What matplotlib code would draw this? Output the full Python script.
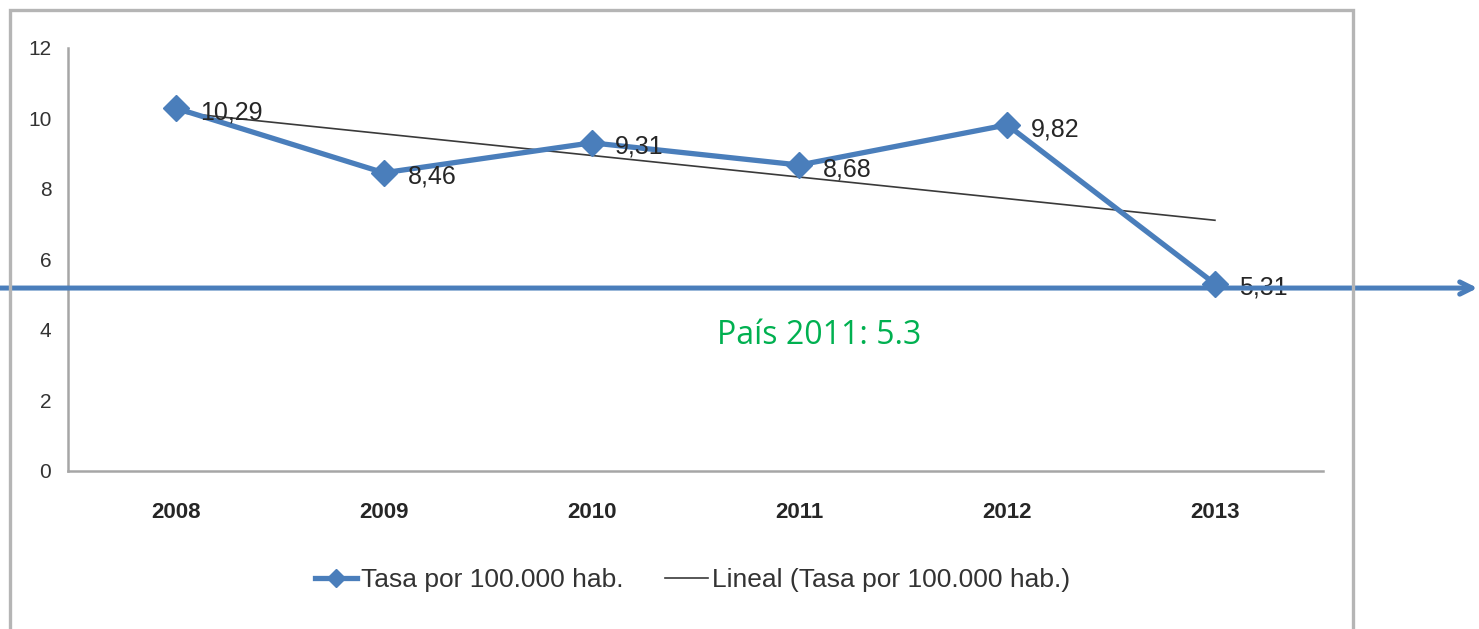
import matplotlib.pyplot as plt
import matplotlib.transforms as mtransforms
from matplotlib.patches import Rectangle
import numpy as np

# datos
anios = ["2008", "2009", "2010", "2011", "2012", "2013"]
tasa = [10.29, 8.46, 9.31, 8.68, 9.82, 5.31]
etiquetas = ["10,29", "8,46", "9,31", "8,68", "9,82", "5,31"]
pais_2011 = 5.3
linea_pais_y = 5.19  # altura de la linea azul

azul = "#4A7EBB"
fuente = ["Liberation Sans", "DejaVu Sans"]

fig = plt.figure(figsize=(14.79, 6.29), dpi=100)
ax = fig.add_axes([0.046, 0.2512, 0.8485, 0.6725])

x = np.arange(len(anios))
ax.plot(x, tasa, "-D", color=azul, lw=3.8, markersize=13.5, zorder=3,
        label="Tasa por 100.000 hab.")

# tendencia lineal
m, b = np.polyfit(x, tasa, 1)
ax.plot(x, m * x + b, "-", color="#3a3a3a", lw=1.2, zorder=2,
        label="Lineal (Tasa por 100.000 hab.)")

for xi, yi, t in zip(x, tasa, etiquetas):
    ax.annotate(t, (xi, yi), xytext=(17, -3), textcoords="offset points",
                ha="left", va="center", fontsize=18, color="#262626",
                family=fuente, zorder=4)

ax.set_xlim(-0.52, 5.52)
ax.set_ylim(0, 12)
ax.set_yticks(range(0, 13, 2))
ax.set_xticks(x)
ax.set_xticklabels(anios, fontsize=16, fontweight="bold", color="#262626", family=fuente)
for lb in ax.get_yticklabels():
    lb.set_family(fuente)
    lb.set_fontsize(15)
    lb.set_color("#333333")
ax.tick_params(axis="both", length=0)
ax.tick_params(axis="y", pad=12)
ax.tick_params(axis="x", pad=22)
for s in ["top", "right"]:
    ax.spines[s].set_visible(False)
for s in ["left", "bottom"]:
    ax.spines[s].set_color("#a6a6a6")
    ax.spines[s].set_linewidth(1.8)

leg = ax.legend(loc="center", bbox_to_anchor=(0.468, 0.078),
                bbox_transform=fig.transFigure, ncol=2, frameon=False,
                handlelength=1.6, handletextpad=0.15, columnspacing=1.6,
                markerscale=0.65, prop={"family": fuente, "size": 19})
for t in leg.get_texts():
    t.set_color("#333333")

# marco del grafico
fig.patches.append(Rectangle((0.0068, -0.05), 0.908, 1.034, transform=fig.transFigure,
                             fill=False, edgecolor="#b5b5b5", lw=2.4))

# linea de referencia del pais con flecha
trans = mtransforms.blended_transform_factory(fig.transFigure, ax.transData)
ax.annotate("", xy=(0.999, linea_pais_y), xytext=(0.0, linea_pais_y),
            xycoords=trans, textcoords=trans,
            arrowprops=dict(arrowstyle="->", lw=3.6, color=azul, mutation_scale=22,
                            shrinkA=0, shrinkB=0),
            annotation_clip=False, zorder=10)

fig.text(0.5536, 0.467, "País 2011: {}".format(pais_2011), color="#00B050",
         fontsize=23, family="Open Sans", ha="center", va="center")

fig.savefig("out.png", dpi=100)
